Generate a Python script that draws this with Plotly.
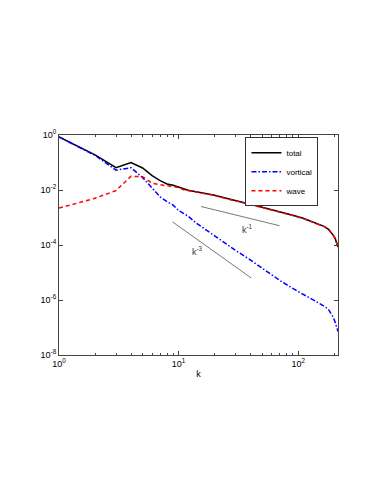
import numpy as np
import plotly.graph_objects as go

# wavenumbers and log10 of spectra
k = [1, 2, 3, 4, 5, 6, 7, 8, 9, 10, 11, 12, 14, 17, 20, 25, 30, 40, 50, 60,
     72, 90, 110, 128, 150, 166, 180, 188, 196, 204, 210, 215]
log_total = [-0.07, -0.72, -1.19, -1.00, -1.20, -1.48, -1.66, -1.78, -1.83, -1.90,
             -1.98, -2.01, -2.06, -2.13, -2.19, -2.30, -2.38, -2.52, -2.63, -2.72,
             -2.80, -2.92, -3.03, -3.14, -3.24, -3.33, -3.44, -3.53, -3.64, -3.77,
             -3.90, -4.07]
log_vortical = [-0.07, -0.74, -1.28, -1.19, -1.55, -1.95, -2.25, -2.42, -2.55, -2.75,
                -2.85, -2.95, -3.20, -3.45, -3.68, -3.98, -4.20, -4.55, -4.85, -5.08,
                -5.32, -5.58, -5.80, -5.97, -6.12, -6.23, -6.36, -6.47, -6.62, -6.82,
                -6.98, -7.15]
log_wave = [-2.66, -2.30, -2.02, -1.50, -1.52, -1.75, -1.81, -1.84, -1.86, -1.91,
            -1.99, -2.02, -2.07, -2.14, -2.20, -2.31, -2.39, -2.53, -2.64, -2.73,
            -2.81, -2.93, -3.04, -3.15, -3.25, -3.34, -3.45, -3.54, -3.65, -3.78,
            -3.91, -4.08]

# slope guides
guide1_k = [15.4, 70]
guide1_e = [10 ** -2.6, 10 ** -3.3]
guide3_k = [8.9, 40.5]
guide3_e = [10 ** -3.16, 10 ** -5.2]

x_ticks = [1, 10, 100]
x_labels = ["10<sup>0</sup>", "10<sup>1</sup>", "10<sup>2</sup>"]
y_ticks = [1, 1e-2, 1e-4, 1e-6, 1e-8]
y_labels = ["10<sup>0</sup>", "10<sup>-2</sup>", "10<sup>-4</sup>", "10<sup>-6</sup>", "10<sup>-8</sup>"]

total = 10 ** np.array(log_total)
vortical = 10 ** np.array(log_vortical)
wave = 10 ** np.array(log_wave)

fig = go.Figure()
fig.add_trace(go.Scatter(x=guide1_k, y=guide1_e, mode="lines", showlegend=False,
                         line=dict(color="#555555", width=0.8)))
fig.add_trace(go.Scatter(x=guide3_k, y=guide3_e, mode="lines", showlegend=False,
                         line=dict(color="#555555", width=0.8)))
fig.add_trace(go.Scatter(x=k, y=total, mode="lines", name="total",
                         line=dict(color="black", width=1.5)))
fig.add_trace(go.Scatter(x=k, y=vortical, mode="lines", name="vortical",
                         line=dict(color="blue", width=1.5, dash="5px,2px,1.5px,2px")))
fig.add_trace(go.Scatter(x=k, y=wave, mode="lines", name="wave",
                         line=dict(color="red", width=1.5, dash="4px,3px")))

fig.add_annotation(x=np.log10(37.4), y=-3.42, text="k<sup>-1</sup>", showarrow=False,
                   font=dict(size=9, color="#333333"))
fig.add_annotation(x=np.log10(14.4), y=-4.22, text="k<sup>-3</sup>", showarrow=False,
                   font=dict(size=9, color="#333333"))

minor_x = [2, 3, 4, 5, 6, 7, 8, 9, 20, 30, 40, 50, 60, 70, 80, 90, 200]

fig.update_xaxes(type="log", range=[0, np.log10(215)], tickvals=x_ticks, ticktext=x_labels,
                 ticks="inside", ticklen=4, tickcolor="#444", showline=True, linecolor="#444",
                 linewidth=1, mirror="ticks", showgrid=False, zeroline=False,
                 minor=dict(tickvals=minor_x, ticks="inside", ticklen=2, tickcolor="#444",
                            showgrid=False),
                 title=dict(text="k", font=dict(size=9), standoff=2),
                 tickfont=dict(size=9))
fig.update_yaxes(type="log", range=[-8, 0], tickvals=y_ticks, ticktext=y_labels,
                 ticks="inside", ticklen=4, tickcolor="#444", showline=True, linecolor="#444",
                 linewidth=1, mirror="ticks", showgrid=False, zeroline=False,
                 tickfont=dict(size=9))

fig.update_layout(
    width=383, height=495,
    margin=dict(l=51, r=53, t=127, b=148),
    paper_bgcolor="white", plot_bgcolor="white",
    font=dict(family="Liberation Sans, Arial, sans-serif", color="black"),
    legend=dict(x=0.93, y=0.99, xanchor="right", yanchor="top",
                bordercolor="#333", borderwidth=1, bgcolor="white",
                font=dict(size=8), tracegroupgap=0, itemwidth=30),
)

fig.write_html("out.html")
